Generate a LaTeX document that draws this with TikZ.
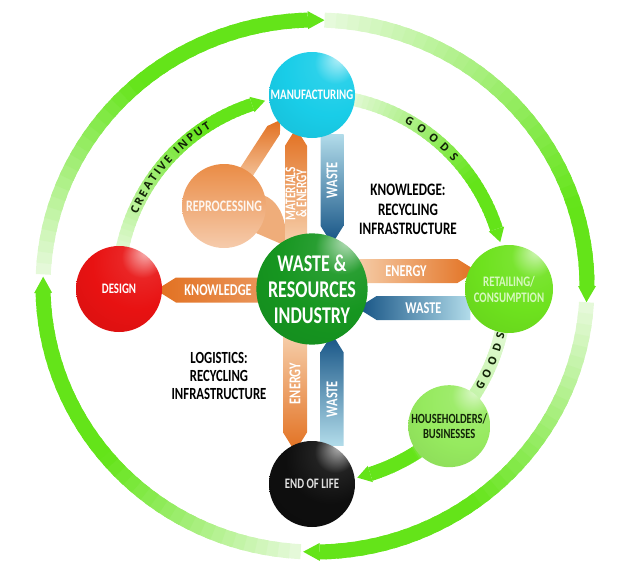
\documentclass[tikz,border=0pt]{standalone}
\usepackage{fontspec}
\newfontfamily\slimfont[FakeStretch=0.75]{Carlito}
\newfontfamily\arcfont{Open Sans}
\usepackage{xcolor}
\usepackage{tikz}
\usetikzlibrary{calc,shapes.arrows,decorations.text}

\definecolor{leaf}{RGB}{100,228,25}
\definecolor{leafpale}{RGB}{232,250,222}
\definecolor{coregreen}{RGB}{22,150,32}
\definecolor{mfgcyan}{RGB}{25,205,232}
\definecolor{designred}{RGB}{232,18,18}
\definecolor{retaillime}{RGB}{110,226,30}
\definecolor{retailtext}{RGB}{214,248,190}
\definecolor{homegreen}{RGB}{150,234,95}
\definecolor{eolblack}{RGB}{14,14,14}
\definecolor{repro}{RGB}{234,140,70}
\definecolor{flame}{RGB}{226,112,32}
\definecolor{flamepale}{RGB}{246,206,170}
\definecolor{sea}{RGB}{20,82,132}
\definecolor{seapale}{RGB}{178,220,234}
\definecolor{inkgreen}{RGB}{18,36,8}

\makeatletter
\pgfdeclareradialshading[tikz@ball]{glossy}{\pgfpoint{16bp}{22bp}}{%
  color(0bp)=(tikz@ball!30!white);
  color(12bp)=(tikz@ball!92!white);
  color(26bp)=(tikz@ball);
  color(52bp)=(tikz@ball!90!black);
  color(75bp)=(tikz@ball!78!black)}
\makeatother

\tikzset{
  station/.style  = {circle, ball color=#1, shading=glossy, inner sep=0pt,
                     align=center, text=white,
                     font=\slimfont\bfseries\fontsize{14.5}{16}\selectfont},
  flow/.style     = {single arrow, single arrow head extend=0pt,
                     single arrow tip angle=64, inner sep=0pt, text=white,
                     font=\slimfont\bfseries\fontsize{16.5}{18}\selectfont},
  note/.style     = {align=center, text=black,
                     font=\slimfont\bfseries\fontsize{17.5}{19.5}\selectfont},
  arclabel/.style = {decorate, decoration={text along path,
                     text align={fit to path}, raise=-4pt,
                     text={|\arcfont\bfseries\fontsize{11}{12}\selectfont\color{inkgreen}|#1}}}
}

% #1 centre, #2/#3 radii, #4 from, #5 to, #6 width, #7 fade share, #8 tip
\newcommand{\ringarrow}[8]{%
  \foreach \i in {0,...,35}{
    \pgfmathsetmacro{\a}{#4+(#5-#4)*\i/36}
    \pgfmathsetmacro{\b}{#4+(#5-#4)*min(\i+1.5,36)/36}
    \pgfmathsetmacro{\m}{min(100,100*(\i+0.5)/36/#7)}
    \draw[line width=#6pt, draw=leaf!\m!leafpale]
      ($(#1)+(\a:#2pt and #3pt)$) arc[start angle=\a, end angle=\b,
                                     x radius=#2pt, y radius=#3pt];
  }
  \pgfmathsetmacro{\rxo}{#2+#6/2+1.5}
  \pgfmathsetmacro{\ryo}{#3+#6/2+1.5}
  \pgfmathsetmacro{\rxi}{#2-#6/2-1.5}
  \pgfmathsetmacro{\ryi}{#3-#6/2-1.5}
  \pgfmathsetmacro{\tip}{#5-#8}
  \fill[leaf] ($(#1)+(#5:\rxo pt and \ryo pt)$) -- ($(#1)+(\tip:#2pt and #3pt)$)
    -- ($(#1)+(#5:\rxi pt and \ryi pt)$) -- cycle;
}

\begin{document}
\begin{tikzpicture}[x=1pt,y=1pt]
  \useasboundingbox (0,0) rectangle (640,-570);
  \coordinate (hub) at (312,-289);
  \coordinate (ring) at (315,-286);

  % outer cycle
  \ringarrow{ring}{272}{266}{267}{181.5}{15}{0.55}{3.5}
  \ringarrow{ring}{272}{266}{177.5}{91.5}{15}{0.55}{3.5}
  \ringarrow{ring}{272}{266}{88}{0}{15}{0.8}{3.5}
  \ringarrow{ring}{272}{266}{-3.5}{-89}{15}{0.6}{3.5}

  % inner cycle
  \ringarrow{hub}{194}{194}{171}{108}{13}{0.75}{4}
  \ringarrow{hub}{194}{194}{80}{18}{13}{0.75}{4}
  \ringarrow{hub}{194}{194}{-8}{-40}{13}{3}{4}
  \ringarrow{hub}{194}{194}{-52}{-72.5}{14}{0.3}{4}

  \path[arclabel={CREATIVE INPUT}] ($(hub)+(157:194pt)$)
    arc[start angle=157, end angle=122, radius=194pt];
  \path[arclabel={GOODS}] ($(hub)+(61:194pt)$)
    arc[start angle=61, end angle=42, radius=194pt];
  \path[arclabel={GOODS}] ($(hub)+(-31:194pt)$)
    arc[start angle=-31, end angle=-13, radius=194pt];

  \fill[flame!35!flamepale] (263,-195) .. controls (277,-200) and (284,-214) .. (286,-232)
    -- (286,-246) -- (256,-233) -- cycle;

  \node[flow, minimum height=113pt, minimum width=22pt, rotate=90,
        top color=flame, bottom color=flamepale, align=center,
        font=\slimfont\bfseries\fontsize{15}{11}\selectfont]
        (matflow) at (296,-193.5) {MATERIALS\\\& ENERGY};
  \node[flow, minimum height=110pt, minimum width=23pt, rotate=90,
        shape border rotate=180, top color=seapale, bottom color=sea]
        (wastedown) at (332,-180) {WASTE};
  \node[flow, minimum height=122pt, minimum width=24pt,
        left color=flamepale, right color=flame]
        (energyright) at (406,-271) {ENERGY};
  \node[flow, minimum height=113pt, minimum width=24pt,
        shape border rotate=180, left color=sea, right color=seapale]
        (wasteleft) at (423.5,-308) {WASTE};
  \node[flow, minimum height=104pt, minimum width=25pt,
        shape border rotate=180, left color=flame, right color=flame!75!white]
        (knowflow) at (218,-290) {KNOWLEDGE};
  \node[flow, minimum height=117pt, minimum width=24pt, rotate=90,
        shape border rotate=180, top color=flamepale, bottom color=flame]
        (energydown) at (295,-383.5) {ENERGY};
  \node[flow, minimum height=112pt, minimum width=23pt, rotate=90,
        top color=sea, bottom color=seapale]
        (wasteup) at (332,-399) {WASTE};
  \node[flow, minimum height=75pt, minimum width=15pt, rotate=57,
        top color=flame, bottom color=flamepale]
        (reproflow) at (256.5,-156.5) {};

  \node[circle, minimum size=84pt, inner sep=0pt, top color=repro,
        bottom color=repro!45!white, text=white!92!repro,
        font=\slimfont\bfseries\fontsize{16}{18}\selectfont]
        (repro) at (224,-206) {REPROCESSING};

  \node[station=mfgcyan, minimum size=86pt] (mfg) at ($(hub)+(90:194pt)$) {MANUFACTURING};
  \node[station=designred, minimum size=86pt] (design) at ($(hub)+(180:193pt)$) {DESIGN};
  \node[station=retaillime, minimum size=88pt, text=retailtext]
        (retail) at ($(hub)+(0:197pt)$) {RETAILING/\\CONSUMPTION};
  \node[station=homegreen, minimum size=82pt, text=inkgreen,
        font=\slimfont\bfseries\fontsize{14}{15}\selectfont]
        (homes) at ($(hub)+(-45:194pt)$) {HOUSEHOLDERS/\\BUSINESSES};
  \node[station=eolblack, minimum size=86pt, text=white!88!black]
        (eol) at ($(hub)+(-90:195pt)$) {END OF LIFE};
  \node[station=coregreen, minimum size=104pt,
        font=\slimfont\bfseries\fontsize{24}{26}\selectfont]
        (core) at (hub) {WASTE \&\\RESOURCES\\INDUSTRY};

  \node[note] (knownote) at (408,-209.5) {KNOWLEDGE:\\RECYCLING\\INFRASTRUCTURE};
  \node[note, font=\slimfont\bfseries\fontsize{17}{18}\selectfont]
        (lognote) at (219,-376) {LOGISTICS:\\RECYCLING\\INFRASTRUCTURE};
\end{tikzpicture}
\end{document}
